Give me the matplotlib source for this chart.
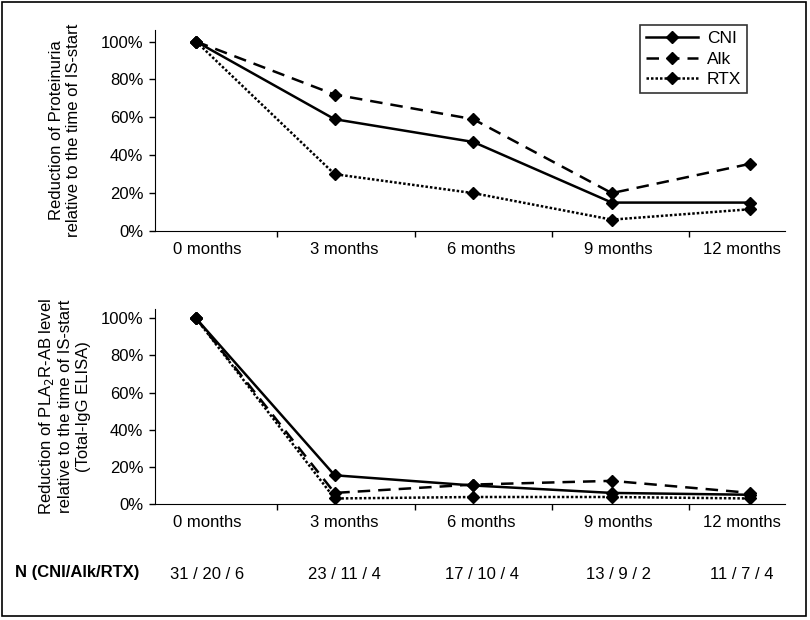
import matplotlib
matplotlib.use('Agg')
import matplotlib.pyplot as plt
import matplotlib.patches as patches
from matplotlib.ticker import FixedLocator, NullFormatter

# Data
months     = ['0 months', '3 months', '6 months', '9 months', '12 months']
n_labels   = ['31 / 20 / 6', '23 / 11 / 4', '17 / 10 / 4', '13 / 9 / 2', '11 / 7 / 4']
prot_cni   = [100, 59, 47, 15, 15]
prot_alk   = [100, 72, 59, 20, 35.5]
prot_rtx   = [100, 30, 20, 6, 11.5]
ab_cni     = [100, 15.5, 10, 6, 5]
ab_alk     = [100, 6, 10.5, 12.5, 6]
ab_rtx     = [100, 3, 3.8, 3.8, 3]

plt.rcParams['font.family'] = ['Liberation Sans', 'DejaVu Sans']

fig = plt.figure(figsize=(8.1, 6.2), dpi=100)
fig.patches.append(patches.Rectangle((0.003, 0.006), 0.992, 0.99, transform=fig.transFigure,
                                     fill=False, edgecolor='black', linewidth=1.2))

styles = [('CNI', '-'), ('Alk', (0, (5, 3.2))), ('RTX', (0, (1, 0.8)))]
label_x = [0.08, 1.07, 2.06, 3.05, 3.94]


def setup(ax, ytop):
    ax.set_xlim(-0.296, 4.25)
    ax.set_ylim(0, ytop)
    for s in ['top', 'right']:
        ax.spines[s].set_visible(False)
    ax.set_yticks([0, 20, 40, 60, 80, 100])
    ax.set_yticklabels(['%d%%' % v for v in [0, 20, 40, 60, 80, 100]], fontsize=12)
    ax.xaxis.set_major_locator(FixedLocator([0.585, 1.58, 2.57, 3.56]))
    ax.xaxis.set_major_formatter(NullFormatter())
    ax.tick_params(axis='both', direction='out', length=4, width=1, pad=4.5)
    for xi, lab in zip(label_x, months):
        ax.text(xi, -0.055, lab, transform=ax.get_xaxis_transform(),
                ha='center', va='top', fontsize=12)


def draw(ax, series):
    for (name, ls), vals in zip(styles, series):
        ax.plot(range(5), vals, color='black', linestyle=ls, linewidth=1.8,
                marker='D', markersize=6.5, label=name)


#   Proteinuria plot
ax1 = fig.add_axes([0.1914, 0.6274, 0.7778, 0.324])
draw(ax1, [prot_cni, prot_alk, prot_rtx])
setup(ax1, 106)
ax1.set_ylabel('Reduction of Proteinuria\nrelative to the time of IS-start',
               fontsize=12, labelpad=14)
leg = ax1.legend(loc='upper left', bbox_to_anchor=(0.77, 1.025), borderaxespad=0,
                 frameon=True, fancybox=False, edgecolor='black', fontsize=12.5,
                 handlelength=3.0, handletextpad=0.5, borderpad=0.35,
                 labelspacing=0.3)
leg.get_frame().set_linewidth(1.2)

#   PLA2R-AB plot
ax2 = fig.add_axes([0.1914, 0.187, 0.7778, 0.3145])
draw(ax2, [ab_cni, ab_alk, ab_rtx])
setup(ax2, 105)
ax2.set_ylabel('Reduction of PLA$_2$R-AB level\nrelative to the time of IS-start\n(Total-IgG ELISA)',
               fontsize=12, labelpad=7)

#   N row
fig.text(77 / 810, 1 - 573 / 620, 'N (CNI/Alk/RTX)', ha='center', va='center',
         fontsize=12, fontweight='bold')
for xi, lab in zip(label_x, n_labels):
    ax2.text(xi, -0.36, lab, transform=ax2.get_xaxis_transform(),
             ha='center', va='center', fontsize=12)

fig.savefig('out.png', dpi=100)
